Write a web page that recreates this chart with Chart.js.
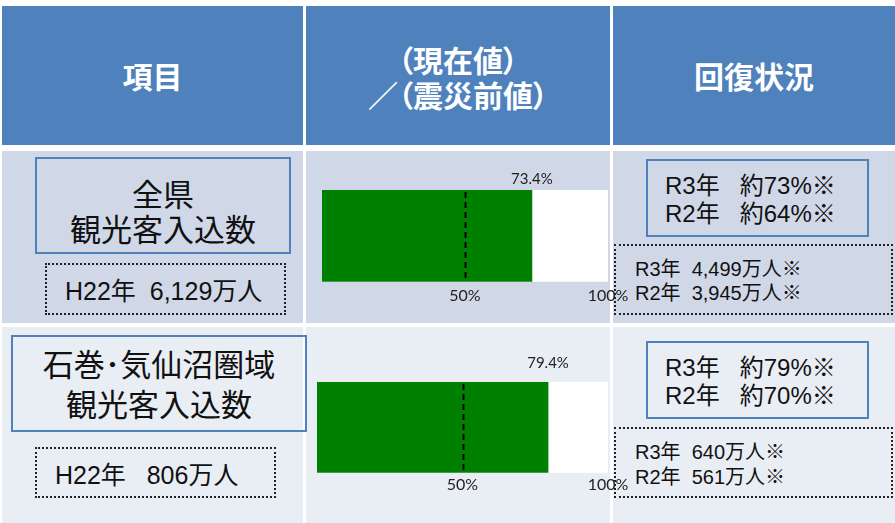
<!DOCTYPE html>
<html lang="ja">
<head>
<meta charset="utf-8">
<script src="https://cdn.jsdelivr.net/npm/chart.js@4.4.1/dist/chart.umd.min.js"></script>
<style>
body{margin:0;background:#fff;width:895px;height:523px;overflow:hidden;position:relative;font-family:"Noto Sans CJK JP",sans-serif;color:#111;}
.cell{position:absolute;}
.hd{background:#4F81BD;color:#fff;font-weight:bold;font-size:30px;line-height:35px;display:flex;align-items:center;justify-content:center;text-align:center;font-feature-settings:"palt";}
.r1{background:#D0D8E8;}
.r2{background:#E9EDF4;}
.box{position:absolute;box-sizing:border-box;}
.solid{border:2px solid #4F81BD;}
.dot{border:2px dotted #222;}
.title{font-size:31px;line-height:35px;display:flex;align-items:center;justify-content:center;text-align:center;padding-top:8px;}
.base{font-family:"Liberation Sans","Noto Sans CJK JP",sans-serif;font-size:25px;display:flex;align-items:center;padding-left:18px;white-space:pre;}
.rate{font-family:"Liberation Sans","Noto Sans CJK JP",sans-serif;font-size:24px;line-height:28px;display:flex;flex-direction:column;justify-content:center;padding-left:17px;padding-top:4px;white-space:pre;}
.count{font-family:"Liberation Sans","Noto Sans CJK JP",sans-serif;font-size:20px;line-height:25px;display:flex;flex-direction:column;justify-content:center;padding-left:19px;padding-top:4px;white-space:pre;}
canvas{position:absolute;}
</style>
</head>
<body>
<div class="cell hd" style="left:2px;top:6px;width:301px;height:139px;">項目</div>
<div class="cell hd" style="left:306px;top:6px;width:304px;height:139px;padding-top:2px;box-sizing:border-box;">（現在値）<br>／（震災前値）</div>
<div class="cell hd" style="left:613px;top:6px;width:282px;height:139px;">回復状況</div>

<div class="cell r1" style="left:2px;top:151px;width:301px;height:172px;"></div>
<div class="cell r1" style="left:306px;top:151px;width:304px;height:172px;"></div>
<div class="cell r1" style="left:613px;top:151px;width:282px;height:172px;"></div>

<div class="cell r2" style="left:2px;top:327px;width:301px;height:196px;"></div>
<div class="cell r2" style="left:306px;top:327px;width:304px;height:196px;"></div>
<div class="cell r2" style="left:613px;top:327px;width:282px;height:196px;"></div>

<div class="box solid title" style="left:35px;top:157px;width:256px;height:97px;">全県<br>観光客入込数</div>
<div class="box dot base" style="left:45px;top:263px;width:241px;height:52px;">H22年  6,129万人</div>

<div class="box solid title" style="left:11px;top:335px;width:296px;height:97px;line-height:40px;padding-top:0;padding-bottom:2px;">石巻･気仙沼圏域<br>観光客入込数</div>
<div class="box dot base" style="left:35px;top:447px;width:241px;height:51px;">H22年   806万人</div>

<div class="box solid rate" style="left:646px;top:159px;width:223px;height:78px;"><div>R3年   約73%※</div><div>R2年   約64%※</div></div>
<div class="box dot count" style="left:614px;top:244px;width:279px;height:71px;padding-top:2px;line-height:24px;"><div>R3年  4,499万人※</div><div>R2年  3,945万人※</div></div>

<div class="box solid rate" style="left:646px;top:341px;width:223px;height:78px;"><div>R3年   約79%※</div><div>R2年   約70%※</div></div>
<div class="box dot count" style="left:614px;top:427px;width:279px;height:71px;"><div>R3年  640万人※</div><div>R2年  561万人※</div></div>

<canvas id="chart1" width="330" height="172" style="left:306px;top:151px;"></canvas>
<canvas id="chart2" width="330" height="196" style="left:306px;top:327px;"></canvas>

<script>
// 観光客入込数の回復率（震災前比）
const categories = ['全県 観光客入込数', '石巻・気仙沼圏域 観光客入込数'];
const recoveryRates = [73.4, 79.4];
const fullScale = [100, 100];
const referenceLine = 50;
const tickValues = [50, 100];
const tickLabels = ['50%', '100%'];

const fontLatin = 'Lato, "Liberation Sans", sans-serif';

function makeChart(canvasId, idx, padding, tickPad, labelGap) {
    var ctx = document.getElementById(canvasId).getContext('2d');

    var refLinePlugin = {
        id: 'refLine',
        afterDatasetsDraw: function (chart) {
            var x = chart.scales.x.getPixelForValue(referenceLine);
            var area = chart.chartArea;
            var c = chart.ctx;
            c.save();
            c.strokeStyle = '#000';
            c.lineWidth = 2;
            c.setLineDash([6, 4]);
            c.beginPath();
            c.moveTo(Math.round(x) + 0.5, area.top + 2);
            c.lineTo(Math.round(x) + 0.5, area.bottom);
            c.stroke();
            c.restore();
        }
    };

    var valueLabelPlugin = {
        id: 'valueLabel',
        afterDatasetsDraw: function (chart) {
            var bar = chart.getDatasetMeta(0).data[0];
            var c = chart.ctx;
            c.save();
            c.font = '15px ' + fontLatin;
            c.fillStyle = '#222';
            c.textAlign = 'center';
            c.textBaseline = 'middle';
            c.fillText(recoveryRates[idx].toFixed(1) + '%', bar.x, chart.chartArea.top - labelGap);
            c.restore();
        }
    };

    return new Chart(ctx, {
        type: 'bar',
        data: {
            labels: [categories[idx]],
            datasets: [{
                label: '回復率',
                data: [recoveryRates[idx]],
                backgroundColor: '#008000',
                grouped: false,
                order: 0,
                barPercentage: 1,
                categoryPercentage: 1
            }, {
                label: '震災前',
                data: [fullScale[idx]],
                backgroundColor: '#ffffff',
                grouped: false,
                order: 1,
                barPercentage: 1,
                categoryPercentage: 1
            }]
        },
        options: {
            indexAxis: 'y',
            responsive: false,
            animation: false,
            layout: { padding: padding },
            plugins: {
                legend: { display: false },
                tooltip: { enabled: false }
            },
            scales: {
                x: {
                    min: 0,
                    max: 100,
                    afterBuildTicks: function (scale) {
                        scale.ticks = tickValues.map(function (v) { return { value: v }; });
                    },
                    grid: { display: false, drawTicks: false },
                    border: { display: false },
                    ticks: {
                        padding: tickPad,
                        maxRotation: 0,
                        autoSkip: false,
                        color: '#222',
                        font: { family: fontLatin, size: 16 },
                        callback: function (v) { return tickLabels[tickValues.indexOf(v)]; }
                    }
                },
                y: { display: false }
            }
        },
        plugins: [refLinePlugin, valueLabelPlugin]
    });
}

makeChart('chart1', 0, { left: 16, right: 28, top: 39, bottom: 14 }, 4, 11);
makeChart('chart2', 1, { left: 11, right: 28, top: 55, bottom: 27 }, 2, 19);
</script>
</body>
</html>
